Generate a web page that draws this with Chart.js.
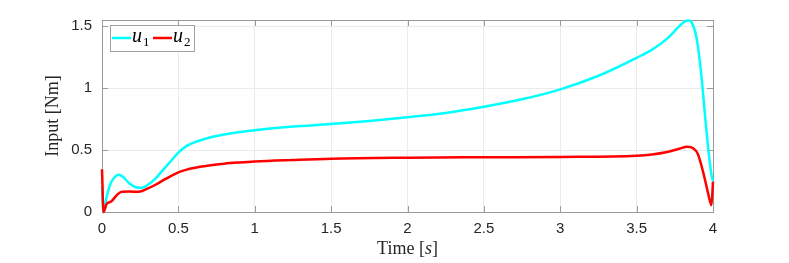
<!DOCTYPE html>
<html>
<head>
<meta charset="utf-8">
<script src="https://cdn.jsdelivr.net/npm/chart.js@4"></script>
<style>
  body { margin: 0; background: #fff; }
  #wrap { width: 789px; height: 263px; }
</style>
</head>
<body>
<div id="wrap"><canvas id="chartInput" width="789" height="263"></canvas></div>
<script>
// time samples (s) and values (Nm)
const timeU1 = [0, 0.01, 0.03, 0.06, 0.09, 0.11, 0.14, 0.18, 0.22, 0.26, 0.3, 0.35, 0.4, 0.45, 0.5, 0.55, 0.6, 0.7, 0.8, 0.9, 1.0,
  1.25, 1.5, 1.75, 2.0, 2.25, 2.5, 2.75, 3.0, 3.25, 3.5, 3.6, 3.7, 3.78, 3.82, 3.84, 3.86, 3.89, 3.92, 3.95, 3.97, 3.99, 4.0];
const u1 = [0.2, 0.0, 0.12, 0.24, 0.29, 0.3, 0.28, 0.23, 0.2, 0.196, 0.22, 0.27, 0.34, 0.41, 0.48, 0.53, 0.56, 0.6, 0.625, 0.645, 0.66,
  0.69, 0.71, 0.735, 0.765, 0.8, 0.85, 0.91, 0.99, 1.1, 1.245, 1.31, 1.4, 1.5, 1.54, 1.545, 1.53, 1.42, 1.15, 0.75, 0.5, 0.3, 0.25];

const timeU2 = [0, 0.01, 0.03, 0.06, 0.1, 0.13, 0.18, 0.24, 0.3, 0.35, 0.4, 0.45, 0.5, 0.55, 0.6, 0.7, 0.8, 0.9, 1.0,
  1.25, 1.5, 2.0, 2.5, 3.0, 3.5, 3.6, 3.7, 3.78, 3.83, 3.87, 3.9, 3.94, 3.97, 3.99, 4.0];
const u2 = [0.345, 0.0, 0.065, 0.085, 0.14, 0.164, 0.165, 0.163, 0.19, 0.22, 0.255, 0.29, 0.32, 0.34, 0.355, 0.375, 0.39, 0.4, 0.408,
  0.42, 0.43, 0.438, 0.442, 0.445, 0.455, 0.465, 0.485, 0.51, 0.527, 0.515, 0.47, 0.3, 0.14, 0.055, 0.245];

const xTicks = [0, 0.5, 1, 1.5, 2, 2.5, 3, 3.5, 4];
const yTicks = [0, 0.5, 1, 1.5];

const serif = '"Liberation Serif", "Times New Roman", serif';
const sans = '"Liberation Sans", Arial, sans-serif';

function toPoints(xs, ys) {
    return xs.map((x, i) => ({ x: x, y: ys[i] }));
}

// MATLAB style: box and inward ticks under the lines, legend and x label on top
const matlabBox = {
    id: 'matlabBox',
    beforeDatasetsDraw(chart) {
        const ctx = chart.ctx;
        const a = chart.chartArea;
        const xs = chart.scales.x, ys = chart.scales.y;
        ctx.save();
        ctx.strokeStyle = '#9a9a9a';
        ctx.lineWidth = 1;
        ctx.beginPath();
        xTicks.forEach(t => {
            const px = Math.round(xs.getPixelForValue(t)) + 0.5;
            ctx.moveTo(px, a.bottom); ctx.lineTo(px, a.bottom - 6);
            ctx.moveTo(px, a.top); ctx.lineTo(px, a.top + 6);
        });
        yTicks.forEach(t => {
            const py = Math.round(ys.getPixelForValue(t)) + 0.5;
            ctx.moveTo(a.left, py); ctx.lineTo(a.left + 6, py);
            ctx.moveTo(a.right, py); ctx.lineTo(a.right - 6, py);
        });
        ctx.stroke();
        ctx.strokeRect(Math.round(a.left) + 0.5, Math.round(a.top) + 0.5,
            Math.round(a.right - a.left), Math.round(a.bottom - a.top));
        ctx.restore();
    },
    afterDraw(chart) {
        const ctx = chart.ctx;
        const a = chart.chartArea;
        ctx.save();
        // legend
        const lx = 110, ly = 25, lw = 84, lh = 26;
        ctx.fillStyle = '#fff';
        ctx.fillRect(lx, ly, lw, lh);
        ctx.strokeStyle = '#a0a0a0';
        ctx.lineWidth = 1;
        ctx.strokeRect(lx + 0.5, ly + 0.5, lw, lh);
        const cy = ly + 13;
        const items = [{ c: '#00ffff', s: '1', x: lx + 2 }, { c: '#ff0000', s: '2', x: lx + 43 }];
        items.forEach(it => {
            ctx.strokeStyle = it.c;
            ctx.lineWidth = 2.5;
            ctx.beginPath();
            ctx.moveTo(it.x, cy); ctx.lineTo(it.x + 19, cy);
            ctx.stroke();
            ctx.fillStyle = '#000';
            ctx.textBaseline = 'alphabetic';
            ctx.font = 'italic 20px ' + serif;
            ctx.fillText('u', it.x + 20, cy + 4);
            ctx.font = '13px ' + serif;
            ctx.fillText(it.s, it.x + 31, cy + 8);
        });

        // x axis label "Time [s]"
        ctx.fillStyle = '#262626';
        ctx.textBaseline = 'alphabetic';
        const parts = [['Time [', '18px '], ['s', 'italic 18px '], [']', '18px ']];
        let total = 0;
        parts.forEach(p => { ctx.font = p[1] + serif; total += ctx.measureText(p[0]).width; });
        let x = (a.left + a.right) / 2 - total / 2;
        parts.forEach(p => {
            ctx.font = p[1] + serif;
            ctx.fillText(p[0], x, 254);
            x += ctx.measureText(p[0]).width;
        });
        ctx.restore();
    }
};

const ctx = document.getElementById('chartInput').getContext('2d');
new Chart(ctx, {
    type: 'line',
    data: {
        datasets: [{
            label: 'u1',
            data: toPoints(timeU1, u1),
            borderColor: '#00ffff',
            borderWidth: 2.5,
            pointRadius: 0,
            order: 2,
            clip: 3,
            cubicInterpolationMode: 'monotone'
        }, {
            label: 'u2',
            data: toPoints(timeU2, u2),
            borderColor: '#ff0000',
            borderWidth: 2.5,
            pointRadius: 0,
            order: 1,
            clip: 3,
            cubicInterpolationMode: 'monotone'
        }]
    },
    options: {
        responsive: false,
        animation: false,
        layout: { padding: { left: 0, top: 20, right: 76, bottom: 0 } },
        plugins: { legend: { display: false }, tooltip: { enabled: false } },
        scales: {
            x: {
                type: 'linear',
                min: 0,
                max: 4,
                afterBuildTicks: s => { s.ticks = xTicks.map(v => ({ value: v })); },
                afterFit: s => { s.height = 51; },
                grid: { color: '#ebebeb', drawTicks: false },
                border: { display: false },
                ticks: {
                    padding: 8,
                    maxRotation: 0,
                    color: '#262626',
                    font: { family: sans, size: 15 },
                    callback: v => String(v)
                }
            },
            y: {
                min: 0,
                max: 1.55,
                afterBuildTicks: s => { s.ticks = yTicks.map(v => ({ value: v })); },
                afterFit: s => { s.width = 102; },
                grid: { color: '#ebebeb', drawTicks: false },
                border: { display: false },
                ticks: {
                    padding: 10,
                    color: '#262626',
                    font: { family: sans, size: 15 },
                    callback: v => String(v)
                },
                title: {
                    display: true,
                    text: 'Input [Nm]',
                    color: '#262626',
                    font: { family: serif, size: 18 },
                    padding: { top: 42, bottom: 0 }
                }
            }
        }
    },
    plugins: [matlabBox]
});
</script>
</body>
</html>
